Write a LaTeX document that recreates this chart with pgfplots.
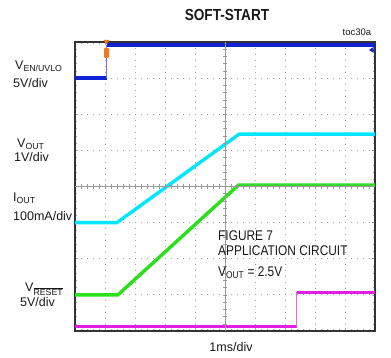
\documentclass[border=0pt]{standalone}
\usepackage{fontspec}
\setmainfont{Liberation Sans}
\newfontfamily\cond{Liberation Sans}[FakeStretch=0.85]
\usepackage{pgfplots}
\pgfplotsset{compat=1.18}
\definecolor{scblue}{RGB}{15,35,215}
\definecolor{sccyan}{RGB}{0,230,255}
\definecolor{scgreen}{RGB}{40,225,25}
\definecolor{scmag}{RGB}{225,30,225}
\definecolor{scorange}{RGB}{240,120,30}
\begin{document}
\begin{tikzpicture}
\path[use as bounding box] (-75pt,-27pt) rectangle (316pt,331pt);
\begin{axis}[
  at={(0pt,0pt)}, anchor=south west,
  width=300pt, height=289pt, scale only axis,
  xmin=0, xmax=10, ymin=0, ymax=8,
  xtick={0,...,10}, ytick={0,...,8},
  xticklabels={}, yticklabels={},
  minor x tick num=4, minor y tick num=4,
  major tick length=3pt, minor tick length=2pt,
  tick style={gray!70, line width=0.5pt},
  grid=major,
  major grid style={gray!75, line width=0.8pt, dash pattern=on 0.8pt off 5.2pt},
  axis line style={draw=black!80, line width=2pt},
  clip=false,
]
% EN/UVLO
\addplot[scblue, line width=3.4pt] coordinates {(0,7) (1.05,7)};
\addplot[blue!55, line width=0.8pt] coordinates {(1.05,7) (1.05,7.92)};
\addplot[scblue, line width=3.4pt] coordinates {(1.05,7.92) (10,7.92)};
% VOUT
\addplot[sccyan, line width=3.4pt] coordinates {(0,3.0) (1.4,3.0) (5.47,5.45) (10,5.45)};
% IOUT
\addplot[scgreen, line width=3.4pt] coordinates {(0,1.0) (1.43,1.0) (5.45,4.04) (10,4.04)};
% RESET
\addplot[scmag, line width=3.2pt] coordinates {(0,0.12) (7.39,0.12)};
\addplot[scmag!70, line width=0.8pt] coordinates {(7.39,0.12) (7.39,1.07)};
\addplot[scmag, line width=3.2pt] coordinates {(7.39,1.07) (10,1.07)};
\end{axis}
% centre crosshair
\draw[gray!80, line width=0.5pt] (0pt,144.5pt) -- (300pt,144.5pt);
\draw[gray!80, line width=0.5pt] (150pt,0pt) -- (150pt,289pt);
\foreach \i in {1,...,49} \draw[gray!80, line width=0.5pt] (\i*6pt,142.3pt) -- (\i*6pt,146.7pt);
\foreach \j in {1,...,39} \draw[gray!80, line width=0.5pt] (147.8pt,\j*7.225pt) -- (152.2pt,\j*7.225pt);
% trigger marker
\fill[scorange] (28.5pt,291pt) -- (34.5pt,291pt) -- (31.5pt,286.5pt) -- cycle;
\fill[scorange, rounded corners=1pt] (29pt,273pt) rectangle (34pt,283pt);
% right arrow
\fill[scblue] (294pt,281pt) -- (298.5pt,284pt) -- (298.5pt,278pt) -- cycle;
\draw[scblue, line width=0.8pt] (296pt,281pt) -- (300pt,281pt);
% labels
\begin{scope}[every node/.style={inner sep=0pt, text=black!90, font=\fontsize{12.5}{14}\selectfont}]
\node[anchor=west] at (-60pt,265pt) {V\textsubscript{EN/UVLO}};
\node[anchor=west] at (-62pt,248pt) {5V/div};
\node[anchor=west] at (-58pt,187pt) {V\textsubscript{OUT}};
\node[anchor=west] at (-61pt,174pt) {1V/div};
\node[anchor=west] at (-62pt,133pt) {I\textsubscript{OUT}};
\node[anchor=west] at (-62pt,115pt) {100mA/div};
\node[anchor=west] at (-50pt,42pt) {V\textsubscript{$\overline{\mbox{RESET}}$}};
\node[anchor=west] at (-55pt,28.5pt) {5V/div};
\node at (156pt,-16pt) {1ms/div};
\node[font=\fontsize{9.5}{11}\selectfont] at (282pt,299pt) {toc30a};
\node[font=\cond\bfseries\fontsize{16}{18}\selectfont] at (152pt,316pt) {SOFT-START};
\node[anchor=west, font=\cond\fontsize{14}{16}\selectfont] at (143pt,95pt) {FIGURE 7};
\node[anchor=west, font=\cond\fontsize{14}{16}\selectfont] at (143pt,80pt) {APPLICATION CIRCUIT};
\node[anchor=west, font=\cond\fontsize{14}{16}\selectfont] at (143pt,58pt) {V\textsubscript{OUT} = 2.5V};
\end{scope}
\end{tikzpicture}
\end{document}
